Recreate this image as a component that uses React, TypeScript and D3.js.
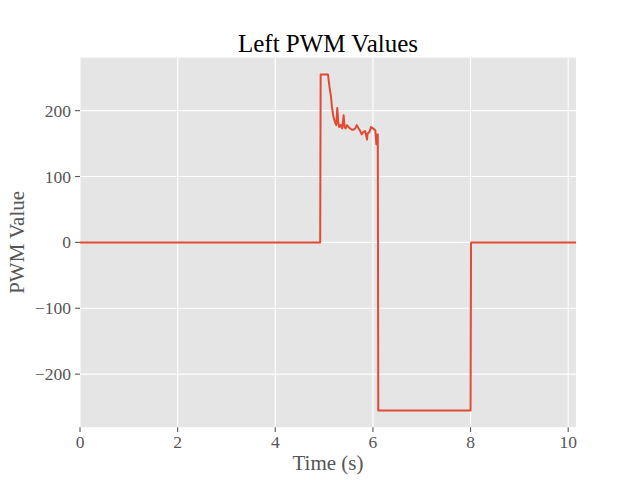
import React from "react";
import * as d3 from "d3";

const times: number[] = [
  0, 4.92, 4.93, 5.08, 5.11, 5.14, 5.16, 5.19, 5.22, 5.25, 5.27, 5.29, 5.31,
  5.34, 5.37, 5.4, 5.42, 5.44, 5.47, 5.5, 5.53, 5.57, 5.6, 5.64, 5.67, 5.7,
  5.74, 5.77, 5.81, 5.84, 5.88, 5.89, 5.93, 5.96, 6.0, 6.02, 6.05, 6.07, 6.08,
  6.1, 6.11, 8.0, 8.01, 10.16,
];
const pwm: number[] = [
  0, 0, 255, 255, 236, 222, 206, 191, 183, 178, 204, 183, 175, 178, 173, 193,
  175, 173, 178, 175, 173, 171, 171, 173, 178, 174, 169, 164, 168, 169, 156,
  165, 168, 175, 173, 172, 170, 149, 163, 164, -255, -255, 0, 0,
];
const xTicks: number[] = [0, 2, 4, 6, 8, 10];
const yTicks: number[] = [-200, -100, 0, 100, 200];

const W = 640;
const H = 480;
const left = 80;
const right = 576;
const top = 57.6;
const bottom = 427.2;
const FONT = "'Liberation Serif', 'Times New Roman', serif";

const fmt = (v: number) => (v < 0 ? "\u2212" + Math.abs(v) : String(v));

export default function App() {
  const x = d3.scaleLinear().domain([0, 10.16]).range([left, right]);
  const y = d3.scaleLinear().domain([-280.5, 280.5]).range([bottom, top]);
  const pts = times.map((t, i) => [t, pwm[i]] as [number, number]);
  const line = d3
    .line<[number, number]>()
    .x((d) => x(d[0]))
    .y((d) => y(d[1]));

  return (
    <svg
      width={W}
      height={H}
      style={{ position: "absolute", left: 0, top: 0, background: "#fff" }}
      fontFamily={FONT}
    >
      <rect x={0} y={0} width={W} height={H} fill="#fff" />
      <rect
        x={left}
        y={top}
        width={right - left}
        height={bottom - top}
        fill="#E5E5E5"
      />
      {xTicks.map((t) => (
        <line
          key={"gx" + t}
          x1={x(t)}
          x2={x(t)}
          y1={top}
          y2={bottom}
          stroke="#fff"
          strokeWidth={1.1}
        />
      ))}
      {yTicks.map((t) => (
        <line
          key={"gy" + t}
          x1={left}
          x2={right}
          y1={y(t)}
          y2={y(t)}
          stroke="#fff"
          strokeWidth={1.1}
        />
      ))}
      <clipPath id="clip">
        <rect x={left} y={top} width={right - left} height={bottom - top} />
      </clipPath>
      <path
        d={line(pts) || ""}
        fill="none"
        stroke="#E24A33"
        strokeWidth={2}
        strokeLinejoin="round"
        clipPath="url(#clip)"
      />
      {xTicks.map((t) => (
        <g key={"tx" + t}>
          <line
            x1={x(t)}
            x2={x(t)}
            y1={bottom}
            y2={bottom + 4.9}
            stroke="#555"
            strokeWidth={1.1}
          />
          <text
            x={x(t)}
            y={bottom + 21}
            textAnchor="middle"
            fontSize={17.5}
            fill="#555"
          >
            {fmt(t)}
          </text>
        </g>
      ))}
      {yTicks.map((t) => (
        <g key={"ty" + t}>
          <line
            x1={left - 4.9}
            x2={left}
            y1={y(t)}
            y2={y(t)}
            stroke="#555"
            strokeWidth={1.1}
          />
          <text
            x={left - 9}
            y={y(t) + 6}
            textAnchor="end"
            fontSize={17.5}
            fill="#555"
          >
            {fmt(t)}
          </text>
        </g>
      ))}
      <text
        x={(left + right) / 2}
        y={470}
        textAnchor="middle"
        fontSize={21}
        fill="#555"
      >
        Time (s)
      </text>
      <text
        transform={`translate(24, ${(top + bottom) / 2}) rotate(-90)`}
        textAnchor="middle"
        fontSize={21}
        fill="#555"
      >
        PWM Value
      </text>
      <text
        x={(left + right) / 2}
        y={52}
        textAnchor="middle"
        fontSize={25}
        fill="#000"
      >
        Left PWM Values
      </text>
    </svg>
  );
}
